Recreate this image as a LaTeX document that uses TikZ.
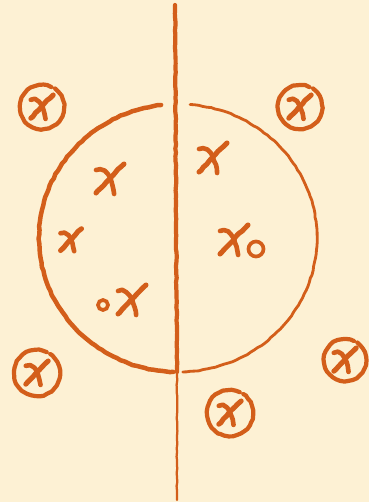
\documentclass[tikz,border=0pt]{standalone}
\usetikzlibrary{decorations.pathmorphing}
\definecolor{paper}{RGB}{253,241,212}
\definecolor{sketch}{RGB}{211,94,26}

\begin{document}
\begin{tikzpicture}[x=0.025cm,y=0.025cm,
  chalk/.style={draw=sketch,line cap=round,line join=round,
    decorate,decoration={random steps,segment length=3pt,amplitude=0.3pt}},
  ring/.style={chalk,line width=3pt},
  dot/.style={draw=sketch,line width=2.6pt},
  cross/.pic={
    \draw[chalk,line width=3.6pt] (14,15) .. controls (3,5) and (-6,-6) .. (-14,-14);
    \draw[chalk,line width=3.3pt] (-14,9) .. controls (-4,11) and (2,0) .. (4,-15);
  }]
  \pgfmathsetseed{7}
  % paper
  \fill[paper] (0,0) rectangle (369,502);
  \useasboundingbox (0,0) rectangle (369,502);
  % dividing line
  \draw[chalk,line width=3pt] (175,497) -- (176,300) -- (177,130);
  \draw[chalk,line width=1.6pt] (177,130) -- (177,2);
  % big circle, two halves
  \draw[chalk,line width=3.2pt] (178,264) ++(97:139 and 134)
    arc[start angle=97,end angle=268,x radius=139,y radius=134];
  \draw[chalk,line width=2pt] (178,264) ++(85:139 and 134)
    arc[start angle=85,end angle=-88,x radius=139,y radius=134];
  % left side marks
  \pic (xa) at (110,323) {cross};
  \pic[scale=0.75] (xb) at (71,262) {cross};
  \pic (xc) at (132,202) {cross};
  \draw[dot] (103,197) circle[radius=5];
  % right side marks
  \pic (xd) at (213,344) {cross};
  \pic (xe) at (234,262) {cross};
  \draw[dot] (256,253) circle[radius=7.5];
  % circled crosses outside
  \foreach \cx/\cy/\r in {42/395/22, 300/395/22, 37/129/23, 230/89/23, 345/142/21}{
    \draw[ring] (\cx,\cy) ++(65:\r) arc[start angle=65,end angle=415,radius=\r];
    \pic[scale=0.8] at (\cx,\cy) {cross};
  }
\end{tikzpicture}
\end{document}
